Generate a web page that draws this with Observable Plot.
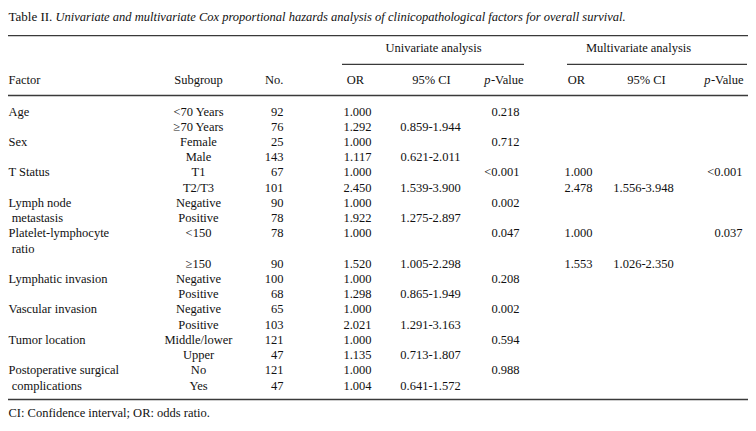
<!DOCTYPE html>
<html>
<head>
<meta charset="utf-8">
<script src="https://cdn.jsdelivr.net/npm/d3@7"></script>
<script src="https://cdn.jsdelivr.net/npm/@observablehq/plot@0.6"></script>
<style>
  html, body { margin: 0; padding: 0; background: #ffffff; }
  svg { display: block; }
</style>
</head>
<body>
<div id="chart"></div>
<script>
// ---- data (one entry per printed line of the table body) ----
const factorLabels = ["Age", null, "Sex", null, "T Status", null, "Lymph node", " metastasis",
  "Platelet-lymphocyte", " ratio", null, "Lymphatic invasion", null, "Vascular invasion", null,
  "Tumor location", null, "Postoperative surgical", " complications"];
const subgroups = ["<70 Years", "≥70 Years", "Female", "Male", "T1", "T2/T3", "Negative", "Positive",
  "<150", null, "≥150", "Negative", "Positive", "Negative", "Positive", "Middle/lower", "Upper", "No", "Yes"];
const counts = ["92", "76", "25", "143", "67", "101", "90", "78", "78", null, "90", "100", "68", "65", "103", "121", "47", "121", "47"];
const uniOR = ["1.000", "1.292", "1.000", "1.117", "1.000", "2.450", "1.000", "1.922", "1.000", null, "1.520",
  "1.000", "1.298", "1.000", "2.021", "1.000", "1.135", "1.000", "1.004"];
const uniCI = [null, "0.859-1.944", null, "0.621-2.011", null, "1.539-3.900", null, "1.275-2.897", null, null,
  "1.005-2.298", null, "0.865-1.949", null, "1.291-3.163", null, "0.713-1.807", null, "0.641-1.572"];
const uniP = ["0.218", null, "0.712", null, "<0.001", null, "0.002", null, "0.047", null, null,
  "0.208", null, "0.002", null, "0.594", null, "0.988", null];
const multiOR = [null, null, null, null, "1.000", "2.478", null, null, "1.000", null, "1.553",
  null, null, null, null, null, null, null, null];
const multiCI = [null, null, null, null, null, "1.556-3.948", null, null, null, null, "1.026-2.350",
  null, null, null, null, null, null, null, null];
const multiP = [null, null, null, null, "<0.001", null, null, null, "0.037", null, null,
  null, null, null, null, null, null, null, null];

const columnHeaders = ["Factor", "Subgroup", "No.", "OR", "95% CI", "p-Value", "OR", "95% CI", "p-Value"];
const groupHeaders = ["Univariate analysis", "Multivariate analysis"];
const titleLead = "Table II.";
const titleText = "Univariate and multivariate Cox proportional hazards analysis of clinicopathological factors for overall survival.";
const captionText = "CI: Confidence interval; OR: odds ratio.";

// ---- layout (positions in pixel units of the x scale, rows in line units of the y scale) ----
const L = {
  left: 8, right: 748, titleItalicX: 55,
  cols: [
    {x: 8, anchor: "start", hx: 8, hanchor: "start", data: factorLabels},
    {x: 198, anchor: "middle", hx: 198, hanchor: "middle", data: subgroups},
    {x: 283, anchor: "end", hx: 283, hanchor: "end", data: counts},
    {x: 371, anchor: "end", hx: 355, hanchor: "middle", data: uniOR},
    {x: 430, anchor: "middle", hx: 431, hanchor: "middle", data: uniCI},
    {x: 519, anchor: "end", hx: 523, hanchor: "end", data: uniP},
    {x: 592, anchor: "end", hx: 576, hanchor: "middle", data: multiOR},
    {x: 643, anchor: "middle", hx: 646, hanchor: "middle", data: multiCI},
    {x: 742, anchor: "end", hx: 743, hanchor: "end", data: multiP}
  ],
  groups: [{x1: 342, x2: 524, cx: 433}, {x1: 567, x2: 747, cx: 638}],
  rowTitle: -6.24, rowTop: -4.99, rowGroup: -4.14, rowGroupRule: -3.09,
  rowHeader: -2.04, rowHeaderRule: -1.05, rowBottom: 18.92, rowCaption: 19.78
};

const font = "'Liberation Serif', 'Times New Roman', serif";
const fs = 12.5;
const lineIdx = d3.range(factorLabels.length);

const marks = [];
// title
marks.push(Plot.text([titleLead], {x: L.left, y: L.rowTitle, text: d => d, textAnchor: "start", fontSize: 13}));
marks.push(Plot.text([titleText], {x: L.titleItalicX, y: L.rowTitle, text: d => d, textAnchor: "start", fontSize: fs, fontStyle: "italic"}));
// rules
marks.push(Plot.ruleY([L.rowTop, L.rowHeaderRule, L.rowBottom], {y: d => d, x1: L.left, x2: L.right, stroke: "#3a3a3a", strokeWidth: 1.3}));
marks.push(Plot.ruleY(L.groups, {y: L.rowGroupRule, x1: "x1", x2: "x2", stroke: "#3a3a3a", strokeWidth: 1.2}));
// group headers
marks.push(Plot.text(L.groups, {x: "cx", y: L.rowGroup, text: (d, i) => groupHeaders[i], textAnchor: "middle", fontSize: fs}));
// column headers
L.cols.forEach((c, j) => {
  const h = columnHeaders[j];
  if (h === "p-Value") {
    marks.push(Plot.text([h], {x: c.hx, y: L.rowHeader, text: () => "-Value", textAnchor: "end", fontSize: fs}));
    marks.push(Plot.text([h], {x: c.hx - 33, y: L.rowHeader, text: () => "p", textAnchor: "end", fontSize: fs, fontStyle: "italic"}));
  } else {
    marks.push(Plot.text([h], {x: c.hx, y: L.rowHeader, text: d => d, textAnchor: c.hanchor, fontSize: fs}));
  }
});
// body
L.cols.forEach(c => {
  marks.push(Plot.text(lineIdx.filter(i => c.data[i] != null), {
    x: c.x, y: i => i, text: i => c.data[i], textAnchor: c.anchor, fontSize: fs
  }));
});
// caption
marks.push(Plot.text([captionText], {x: L.left, y: L.rowCaption, text: d => d, textAnchor: "start", fontSize: fs}));

const chart = Plot.plot({
  width: 756,
  height: 431,
  margin: 0,
  x: {domain: [0, 756], range: [0, 756], axis: null},
  y: {domain: [0, 18], range: [111, 385], axis: null},
  style: {fontFamily: font, fontSize: fs + "px", color: "#111111", background: "#ffffff"},
  marks
});
document.getElementById("chart").appendChild(chart);
</script>
</body>
</html>
